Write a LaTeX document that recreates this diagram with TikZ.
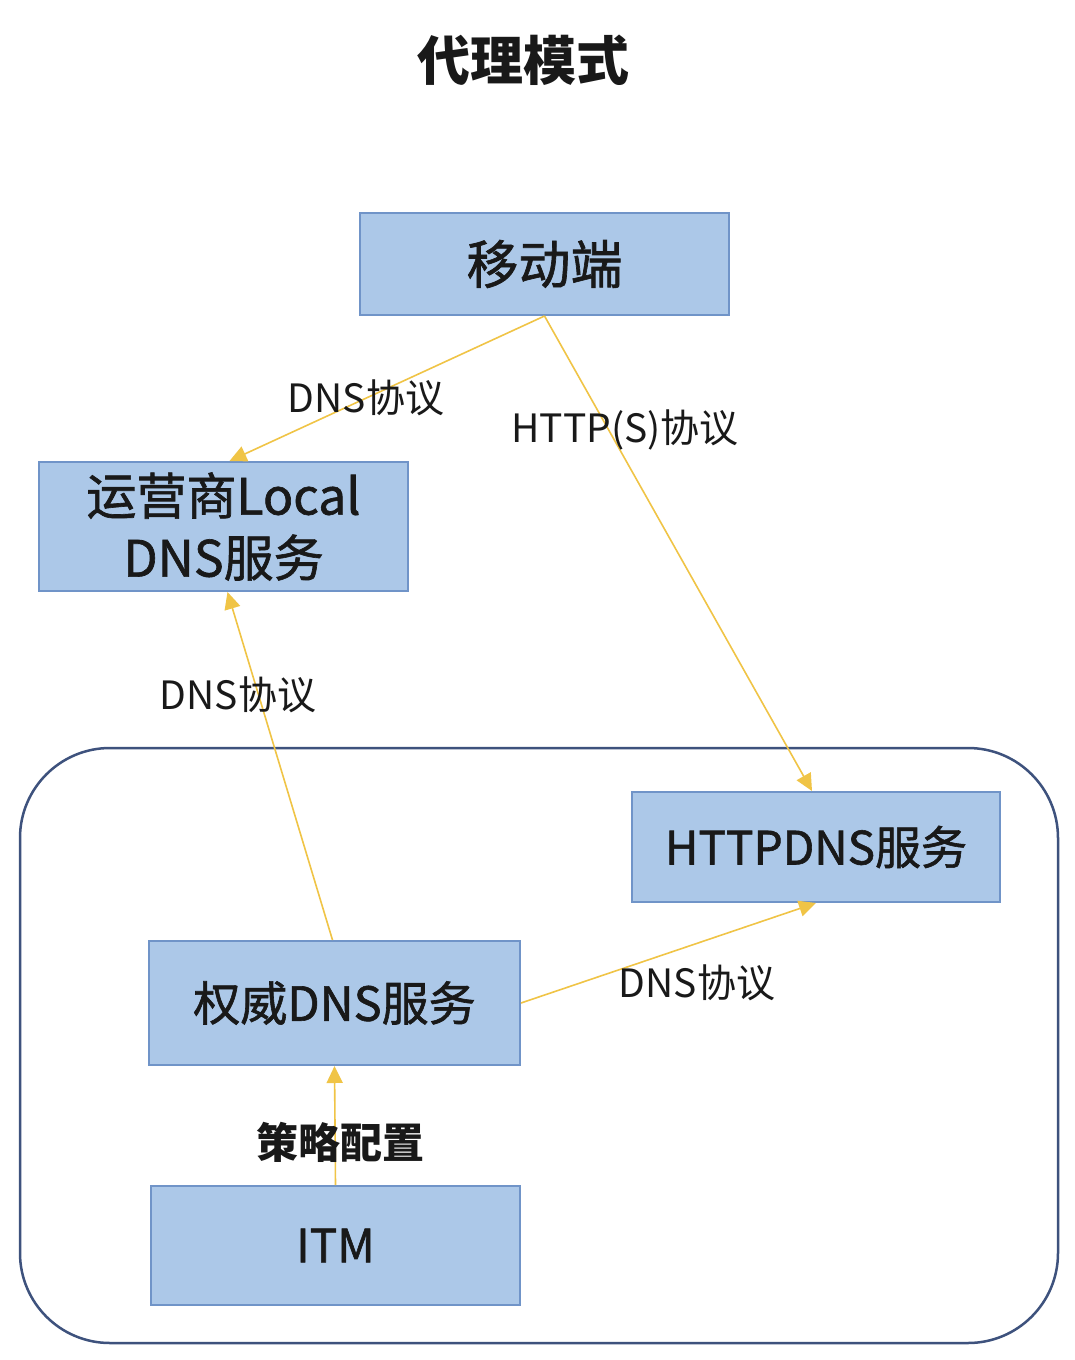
\documentclass[tikz,border=0pt]{standalone}
\usepackage{fontspec}
\setmainfont{Noto Sans CJK SC}
\newfontfamily\medfont[FakeBold=1.3]{Noto Sans CJK SC}
\usetikzlibrary{arrows.meta}
\definecolor{boxfill}{RGB}{172,200,232}
\definecolor{boxdraw}{RGB}{112,148,200}
\definecolor{arrowc}{RGB}{240,196,70}
\definecolor{framec}{RGB}{62,82,125}
\definecolor{textc}{RGB}{25,25,25}
\tikzset{
  sbox/.style={draw=boxdraw, fill=boxfill, line width=2pt, inner sep=0pt, text=textc, align=center},
  conn/.style={draw=arrowc, line width=1.6pt, -{Triangle[length=17pt,width=16pt]}},
  lbl/.style={text=textc, font=\fontsize{39}{44}\selectfont, inner sep=0pt}
}
\begin{document}
\begin{tikzpicture}[x=1pt,y=-1pt]
\useasboundingbox (0,0) rectangle (1074,1360);
\fill[white] (0,0) rectangle (1074,1360);
% title
\node[text=textc, font=\fontsize{53}{58}\selectfont\bfseries] (title) at (523,60) {代理模式};
% frame
\draw[framec, line width=2.5pt, rounded corners=90pt] (20,748) rectangle (1058,1343);
% boxes
\node[sbox, minimum width=369pt, minimum height=102pt, font=\medfont\fontsize{52}{60}\selectfont] (mob) at (544.5,264) {移动端};
\node[sbox, minimum width=369pt, minimum height=129pt, font=\medfont\fontsize{50}{62}\selectfont] (ldns) at (223.5,526.5) {运营商Local\\DNS服务};
\node[sbox, minimum width=368pt, minimum height=110pt, font=\medfont\fontsize{46}{56}\selectfont] (hdns) at (816,847) {HTTPDNS服务};
\node[sbox, minimum width=371pt, minimum height=124pt, font=\medfont\fontsize{47}{56}\selectfont] (auth) at (334.5,1003) {权威DNS服务};
\node[sbox, minimum width=369pt, minimum height=119pt, font=\medfont\fontsize{46}{56}\selectfont] (itm) at (335.5,1245.5) {ITM};
% connectors
\draw[conn] (mob.south) -- ([xshift=6pt]ldns.north);
\draw[conn] (mob.south) -- ([xshift=-4pt]hdns.north);
\draw[conn] ([xshift=-2pt]auth.north) -- ([xshift=4pt]ldns.south);
\draw[conn] (auth.east) -- (hdns.south);
\draw[conn] (itm.north) -- (auth.south);
% labels
\node[lbl] (l1) at (366,398) {DNS协议};
\node[lbl] (l2) at (625,430) {HTTP(S)协议};
\node[lbl] (l3) at (238,695) {DNS协议};
\node[lbl] (l4) at (697,983) {DNS协议};
\node[lbl, font=\fontsize{42}{46}\selectfont\bfseries] (l5) at (340,1142) {策略配置};
\end{tikzpicture}
\end{document}
